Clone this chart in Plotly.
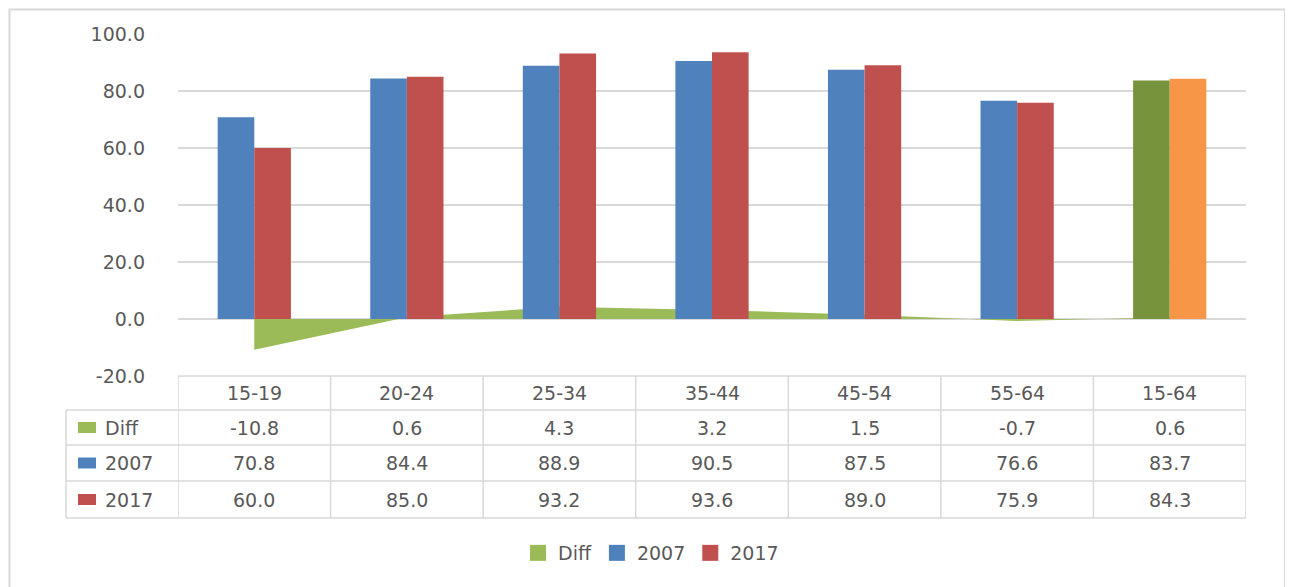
import plotly.graph_objects as go

categories = ["15-19", "20-24", "25-34", "35-44", "45-54", "55-64", "15-64"]
diff_vals = [-10.8, 0.6, 4.3, 3.2, 1.5, -0.7, 0.6]
vals_2007 = [70.8, 84.4, 88.9, 90.5, 87.5, 76.6, 83.7]
vals_2017 = [60.0, 85.0, 93.2, 93.6, 89.0, 75.9, 84.3]
series_names = ["Diff", "2007", "2017"]
y_ticks = [-20, 0, 20, 40, 60, 80, 100]

C_DIFF = "#9BBB59"
C_2007 = "#4F81BD"
C_2017 = "#C0504D"
C_TOT07 = "#77933C"
C_TOT17 = "#F79646"
GRID = "#D9D9D9"
TXT = "#595959"
FONT = "DejaVu Sans"
FS = 19

OFF = 8  # page body margin
W, H = 1293 - OFF, 587 - OFF
L, R, T, B = 178, 1246, 34, 376  # plot area in reference pixels


def px_x(px):
    return (px - L) / (R - L)


def px_y(py):
    return (B - py) / (B - T)


n = len(categories)
colors07 = [C_2007] * (n - 1) + [C_TOT07]
colors17 = [C_2017] * (n - 1) + [C_TOT17]

fig = go.Figure()

# area (behind bars, main subplot)
fig.add_trace(go.Scatter(
    x=categories, y=diff_vals, mode="lines", fill="tozeroy",
    fillcolor=C_DIFF, line=dict(width=0, color=C_DIFF),
    showlegend=False, hoverinfo="skip"))

# bars on overlay axis so they draw above the area
fig.add_trace(go.Bar(x=categories, y=vals_2007, marker=dict(color=colors07, line=dict(width=0)),
                     yaxis="y2", showlegend=False, name="2007"))
fig.add_trace(go.Bar(x=categories, y=vals_2017, marker=dict(color=colors17, line=dict(width=0)),
                     yaxis="y2", showlegend=False, name="2017"))

# legend entries
for name, col in zip(series_names, [C_DIFF, C_2007, C_2017]):
    fig.add_trace(go.Scatter(x=[None], y=[None], mode="markers", name=name,
                             marker=dict(symbol="square", size=16, color=col)))

shapes = []
line_style = dict(color=GRID, width=1.5)
# outer chart border
shapes.append(dict(type="rect", xref="paper", yref="paper",
                   x0=px_x(9.5), x1=px_x(1285), y0=px_y(620), y1=px_y(9.5),
                   line=dict(color=GRID, width=2), fillcolor="rgba(0,0,0,0)", layer="below"))

# table rows
row_edges = [376, 410, 445, 481, 518]
for i, py in enumerate(row_edges):
    x0 = px_x(178) if i == 0 else px_x(66)
    shapes.append(dict(type="line", xref="paper", yref="paper",
                       x0=x0, x1=1, y0=px_y(py), y1=px_y(py), line=line_style))
# vertical lines
shapes.append(dict(type="line", xref="paper", yref="paper", x0=px_x(66), x1=px_x(66),
                   y0=px_y(410), y1=px_y(518), line=line_style))
for k in range(n + 1):
    shapes.append(dict(type="line", xref="x", yref="paper", x0=k - 0.5, x1=k - 0.5,
                       y0=px_y(376), y1=px_y(518), line=line_style))

annotations = []
font = dict(family=FONT, size=FS, color=TXT)
# header
for c in categories:
    annotations.append(dict(x=c, xref="x", y=px_y(393), yref="paper", text=c,
                            showarrow=False, font=font, xanchor="center", yanchor="middle"))
row_centers = [427.5, 463, 499.5]
row_data = [diff_vals, vals_2007, vals_2017]
row_cols = [C_DIFF, C_2007, C_2017]
for name, vals, col, yc in zip(series_names, row_data, row_cols, row_centers):
    shapes.append(dict(type="rect", xref="paper", yref="paper",
                       x0=px_x(78), x1=px_x(96), y0=px_y(yc + 5.5), y1=px_y(yc - 5.5),
                       fillcolor=col, line=dict(width=0)))
    annotations.append(dict(x=px_x(103), xref="paper", y=px_y(yc), yref="paper", text=name,
                            showarrow=False, font=font, xanchor="left", yanchor="middle"))
    for c, v in zip(categories, vals):
        annotations.append(dict(x=c, xref="x", y=px_y(yc), yref="paper", text=f"{v:.1f}",
                                showarrow=False, font=font, xanchor="center", yanchor="middle"))

fig.update_layout(
    width=W, height=H,
    margin=dict(l=L - OFF, r=(W + OFF) - R, t=T - OFF, b=(H + OFF) - B, autoexpand=False),
    paper_bgcolor="white", plot_bgcolor="white",
    barmode="group", bargap=0.52, bargroupgap=0,
    xaxis=dict(type="category", range=[-0.5, n - 0.5], showticklabels=False,
               showgrid=False, zeroline=False, showline=False, ticks=""),
    yaxis=dict(range=[-20, 100], tickvals=y_ticks, ticktext=[f"{v:.1f}" for v in y_ticks],
               showgrid=True, gridcolor=GRID, gridwidth=1.5, zeroline=False,
               showline=False, ticks="", ticklabelstandoff=32,
               tickfont=dict(family=FONT, size=FS, color=TXT)),
    yaxis2=dict(range=[-20, 100], overlaying="y", showgrid=False, zeroline=False,
                showticklabels=False, showline=False, ticks=""),
    legend=dict(orientation="h", xref="container", yref="container",
                x=(651 - OFF) / W, xanchor="center", y=1 - (553 - OFF) / H, yanchor="middle",
                font=dict(family=FONT, size=FS, color=TXT), traceorder="normal",
                itemclick=False, itemwidth=30),
    shapes=shapes, annotations=annotations,
    showlegend=True,
)

fig.write_html("out.html")
